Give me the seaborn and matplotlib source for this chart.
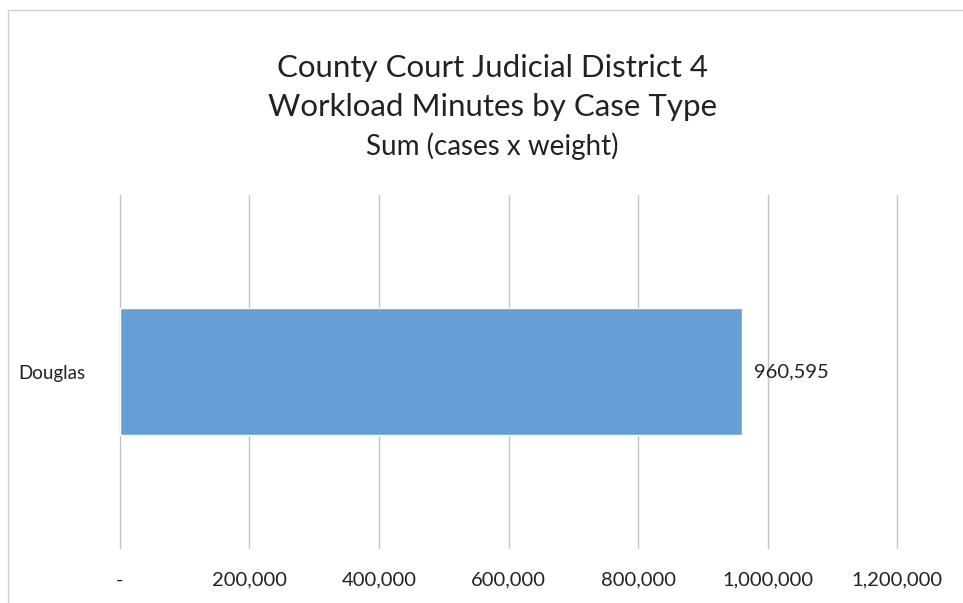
import matplotlib.pyplot as plt
import matplotlib.patches as patches
import matplotlib.ticker as mticker
import pandas as pd
import seaborn as sns

# data
counties = ['Douglas']
minutes = [960595]
xTicks = [0, 200000, 400000, 600000, 800000, 1000000, 1200000]

df = pd.DataFrame({'county': counties, 'minutes': minutes})

sns.set_style('white')
plt.rcParams['font.family'] = ['Lato', 'DejaVu Sans']

fig = plt.figure(figsize=(9.63, 6.03), dpi=100)
ax = fig.add_axes([0.1246, 0.0912, 0.8069, 0.5854])

sns.barplot(data=df, x='minutes', y='county', orient='h', color='#659fd6',
            width=0.357, ax=ax, saturation=1)

ax.set_xlim(0, 1200000)
ax.set_ylim(0.5, -0.5)
ax.set_xticks(xTicks)
ax.xaxis.set_major_formatter(mticker.FuncFormatter(lambda v, p: '-' if v == 0 else f'{int(v):,}'))
ax.tick_params(axis='x', length=0, pad=17, labelsize=14.5, labelcolor='#222222')
ax.tick_params(axis='y', length=0, pad=25, labelsize=13.5, labelcolor='#222222')
ax.set_xlabel('')
ax.set_ylabel('')
ax.grid(axis='x', color='#c4c4c4', linewidth=1)
for gl in ax.get_xgridlines():
    gl.set_clip_on(False)
ax.set_axisbelow(True)
for s in ax.spines.values():
    s.set_visible(False)

# value label
for i, v in enumerate(minutes):
    ax.text(v + 18000, i, f'{v:,}', va='center', ha='left', fontsize=14.5, color='#222222')

fig.text(0.511, 0.887, 'County Court Judicial District 4', ha='center', va='center',
         fontsize=22.5, color='#222222')
fig.text(0.511, 0.823, 'Workload Minutes by Case Type', ha='center', va='center',
         fontsize=22.5, color='#222222')
fig.text(0.511, 0.758, 'Sum (cases x weight)', ha='center', va='center',
         fontsize=20, color='#222222')

# chart frame
fig.patches.append(patches.Rectangle((8 / 963, -0.1), 1.2, 1 - 10 / 603 + 0.1,
                                     transform=fig.transFigure, fill=False,
                                     edgecolor='#d0d0d0', linewidth=1))

fig.savefig('out.png', dpi=100)
